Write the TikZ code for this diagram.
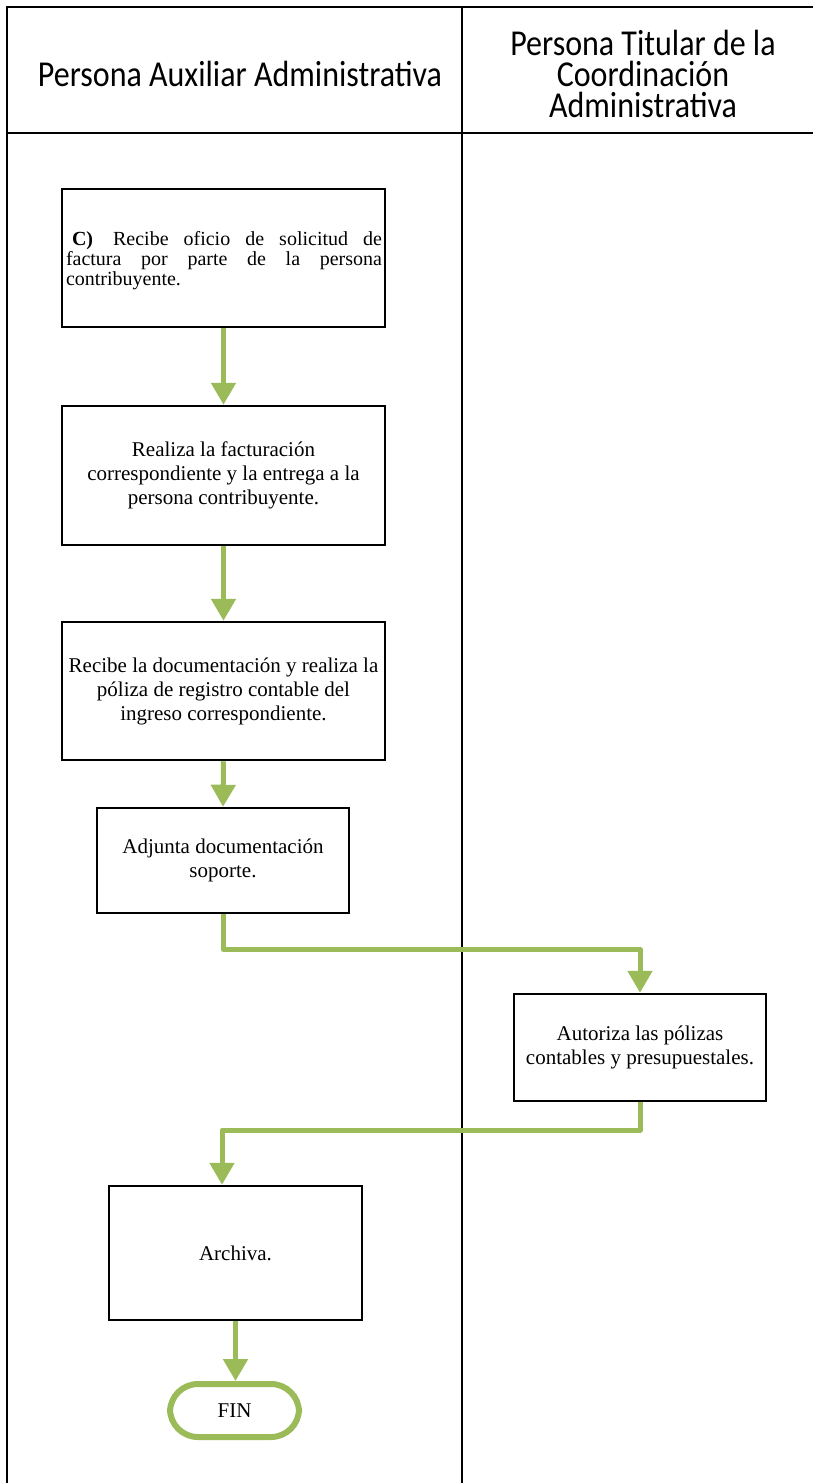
\documentclass[tikz,border=0pt]{standalone}
\usepackage{fontspec}
\setmainfont{Liberation Serif}
\newfontfamily\headfont{Carlito}
\usetikzlibrary{arrows.meta}
\definecolor{flowgreen}{RGB}{155,187,89}
\newcommand{\tallhead}[1]{\scalebox{1}[1.14]{#1}}
\tikzset{
  lane/.style={line width=2.5pt,black},
  head/.style={align=center,font={\headfont\fontsize{32}{31}\selectfont\lineskiplimit -100pt\relax}},
  proc/.style={draw,line width=2.5pt,inner sep=0pt,align=center,
    font=\fontsize{21}{24}\selectfont},
  flow/.style={line width=5pt,flowgreen,line join=round,
    -{Triangle[width=24pt,length=22pt]}},
  finbox/.style={draw=flowgreen,line width=6pt,rounded corners=28pt,
    minimum width=129pt,minimum height=53pt,font=\fontsize{21}{24}\selectfont},
}
\begin{document}
\begin{tikzpicture}[x=1pt,y=-1pt]
  \useasboundingbox (0,0) rectangle (812,1483);
%%
  % Lanes
  \draw [lane] (7,1495) -- (7,7) -- (820,7);
  \draw [lane] (7,133) -- (820,133);
  \draw [lane] (462,7) -- (462,1495);
  \node (h1) at (240,74) [head] {\tallhead{Persona Auxiliar Administrativa}};
  \node (h2) at (643,74) [head]
    {\tallhead{Persona Titular de la}\\\tallhead{Coordinación}\\\tallhead{Administrativa}};
  % Node: r1
  \node (r1) at (223.5,258) [proc,minimum width=323pt,minimum height=138pt] {};
  \node (t1) at (224,261) [text width=316pt,align=justify,
    font={\fontsize{20}{20}\selectfont\lineskiplimit -100pt\relax}]
    {\hspace*{6pt}\textbf{C)}\quad Recibe oficio de solicitud de\linebreak
     factura por parte de la persona\linebreak contribuyente.};
  % Node: r2
  \node (r2) at (223.5,475.5) [proc,minimum width=323pt,minimum height=139pt]
    {Realiza la facturación\\correspondiente y la entrega a la\\persona contribuyente.};
  % Node: r3
  \node (r3) at (223.5,691) [proc,minimum width=323pt,minimum height=138pt]
    {Recibe la documentación y realiza la\\póliza de registro contable del\\ingreso correspondiente.};
  % Node: r4
  \node (r4) at (223,860.5) [proc,minimum width=252pt,minimum height=105pt]
    {Adjunta documentación\\soporte.};
  % Node: r5
  \node (r5) at (640,1047.5) [proc,minimum width=252pt,minimum height=107pt]
    {Autoriza las pólizas\\contables y presupuestales.};
  % Node: r6
  \node (r6) at (235.5,1253) [proc,minimum width=253pt,minimum height=134pt] {Archiva.};
  % Node: fin
  \node (fin) at (234.5,1410.5) [finbox] {FIN};
%%
  % Edge: r1 -> r2
  \draw [flow] (r1.south) -- (r2.north);
  % Edge: r2 -> r3
  \draw [flow] (r2.south) -- (r3.north);
  % Edge: r3 -> r4
  \draw [flow] (r3.south) -- (r4.north);
  % Edge: r4 -> r5
  \draw [flow] (r4.south) -- ++(0,35) -| (r5.north);
  % Edge: r5 -> r6
  \draw [flow] (r5.south) -- ++(0,28) -| ([xshift=-13.5pt]r6.north);
  % Edge: r6 -> fin
  \draw [flow] (r6.south) -- (r6.south |- fin.north);
%
\end{tikzpicture}
\end{document}
